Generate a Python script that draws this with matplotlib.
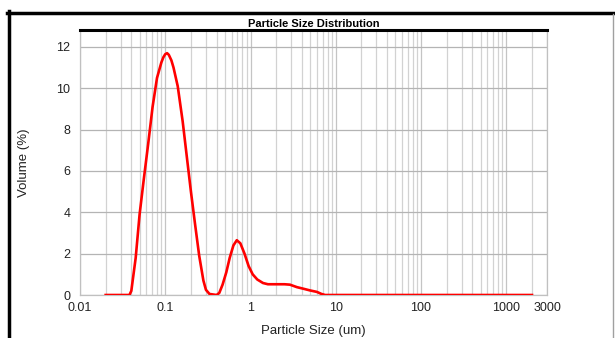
import matplotlib
matplotlib.use("Agg")
import matplotlib.pyplot as plt
from matplotlib.lines import Line2D
from matplotlib.ticker import FixedLocator, FixedFormatter, LogLocator, NullFormatter

plt.rcParams['font.family'] = ['Liberation Sans Narrow', 'Liberation Sans', 'DejaVu Sans']

# Particle size (um)
size_um = [0.020, 0.030, 0.038, 0.040, 0.045, 0.050, 0.056, 0.063, 0.071, 0.080,
           0.090, 0.095, 0.100, 0.105, 0.110, 0.118, 0.125, 0.140, 0.160, 0.180,
           0.200, 0.224, 0.250, 0.280, 0.300, 0.330, 0.400, 0.430, 0.470, 0.520,
           0.570, 0.630, 0.690, 0.760, 0.850, 0.950, 1.06, 1.20, 1.40, 1.60,
           2.0, 2.5, 2.9, 3.5, 4.2, 5.0, 6.0, 6.8, 7.5, 20,
           100, 500, 2000]
# Volume (%)
volume_pct = [0.0, 0.0, 0.0, 0.2, 1.8, 3.9, 5.6, 7.3, 9.1, 10.5,
              11.25, 11.5, 11.65, 11.7, 11.62, 11.35, 11.0, 10.1, 8.4, 6.6,
              5.0, 3.4, 1.9, 0.7, 0.25, 0.05, 0.0, 0.1, 0.5, 1.1,
              1.8, 2.4, 2.65, 2.5, 2.0, 1.4, 1.0, 0.75, 0.58, 0.52,
              0.52, 0.52, 0.5, 0.38, 0.30, 0.22, 0.15, 0.05, 0.0, 0.0,
              0.0, 0.0, 0.0]

x_ticks = [0.01, 0.1, 1, 10, 100, 1000, 3000]
x_tick_labels = ['0.01', '0.1', '1', '10', '100', '1000', '3000']
y_ticks = [0, 2, 4, 6, 8, 10, 12]

W, H = 615, 338
fig = plt.figure(figsize=(W / 100, H / 100), dpi=100)
ax = fig.add_axes([80 / W, 1 - 295 / H, (547 - 80) / W, (295 - 30) / H])

ax.plot(size_um, volume_pct, color='#ff0000', lw=1.9, solid_joinstyle='round', zorder=3)

ax.set_xscale('log')
ax.set_xlim(0.01, 3000)
ax.set_ylim(0, 12.82)

ax.xaxis.set_major_locator(FixedLocator(x_ticks))
ax.xaxis.set_major_formatter(FixedFormatter(x_tick_labels))
ax.xaxis.set_minor_locator(LogLocator(base=10, subs=range(2, 10), numticks=20))
ax.xaxis.set_minor_formatter(NullFormatter())
ax.set_yticks(y_ticks)
ax.set_yticklabels([str(v) for v in y_ticks])

ax.grid(True, which='major', axis='x', color='#c4c4c4', lw=0.9)
ax.grid(True, which='minor', axis='x', color='#d2d2d2', lw=0.9)
ax.grid(True, which='major', axis='y', color='#b4b4b4', lw=0.9)
ax.set_axisbelow(True)

ax.tick_params(axis='both', which='both', length=0, labelsize=9, colors='#222222')
ax.tick_params(axis='x', pad=5)
ax.tick_params(axis='y', pad=7)

for s in ['left', 'bottom', 'right']:
    ax.spines[s].set_color('#c0c0c0')
    ax.spines[s].set_linewidth(0.9)
ax.spines['top'].set_color('black')
ax.spines['top'].set_linewidth(2.2)

ax.set_title('Particle Size Distribution', fontsize=8, fontweight='bold', pad=2)
ax.set_xlabel('Particle Size (um)', fontsize=9.5, color='#222222', labelpad=8)
ax.set_ylabel('Volume (%)', fontsize=9.5, color='#222222', labelpad=19)

# outer frame
fig.add_artist(Line2D([8.5 / W, 8.5 / W], [0, 1 - 11 / H], transform=fig.transFigure,
                      color='black', lw=2.5))
fig.add_artist(Line2D([7 / W, 613 / W], [1 - 12.5 / H, 1 - 12.5 / H], transform=fig.transFigure,
                      color='black', lw=2.5))
fig.add_artist(Line2D([613 / W, 613 / W], [0, 1 - 14 / H], transform=fig.transFigure,
                      color='#a0a0a0', lw=1.0))

fig.savefig('out.png', dpi=100)
